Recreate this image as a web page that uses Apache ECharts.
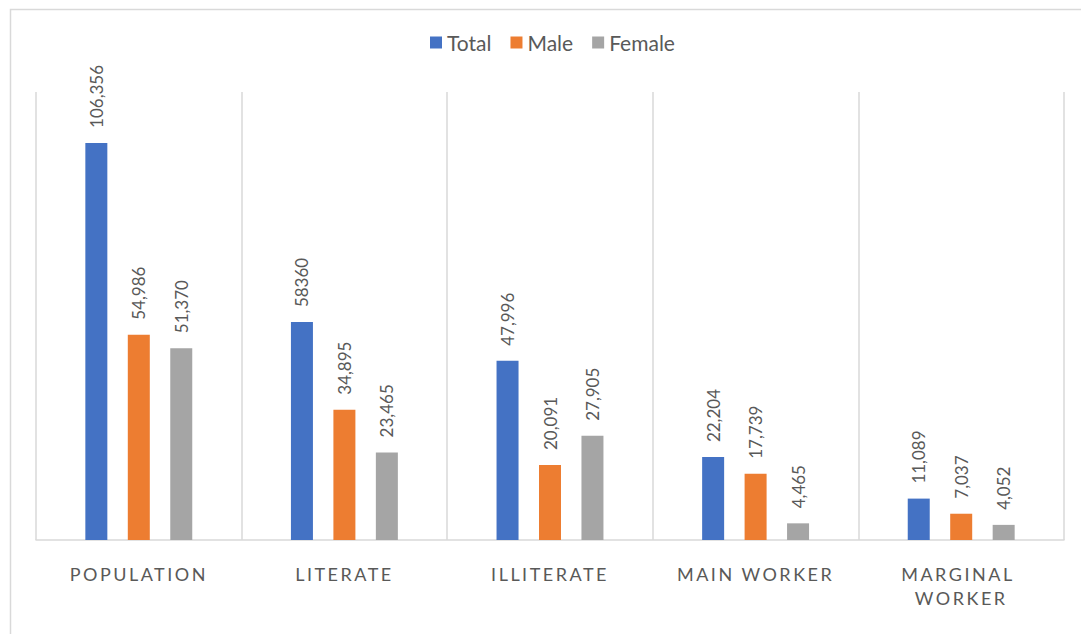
<!DOCTYPE html>
<html>
<head>
<meta charset="utf-8">
<script src="https://cdn.jsdelivr.net/npm/echarts@6/dist/echarts.min.js"></script>
<style>
html,body{margin:0;padding:0;background:#fff;}
#chart{width:1081px;height:634px;}
</style>
</head>
<body>
<div id="chart"></div>
<script>
const categories = ['POPULATION', 'LITERATE', 'ILLITERATE', 'MAIN WORKER', 'MARGINAL WORKER'];
const totalValues = [106356, 58360, 47996, 22204, 11089];
const maleValues = [54986, 34895, 20091, 17739, 7037];
const femaleValues = [51370, 23465, 27905, 4465, 4052];
const seriesNames = ['Total', 'Male', 'Female'];
const seriesColors = ['#4472C4', '#ED7D31', '#A5A5A5'];
// labels exactly as printed on the chart (one value shown without separator)
const plainLabels = [[1], [], []];

const FONT = 'Lato, "Open Sans", sans-serif';
const AXIS_LABEL_COLOR = '#595958';

function fmt(seriesIdx) {
  return function (p) {
    if (plainLabels[seriesIdx].indexOf(p.dataIndex) >= 0) return String(p.value);
    return Number(p.value).toLocaleString('en-US');
  };
}

const allValues = [totalValues, maleValues, femaleValues];
const chart = echarts.init(document.getElementById('chart'), null, {renderer: 'svg'});
chart.setOption({
  animation: false,
  backgroundColor: '#fff',
  graphic: [{
    type: 'rect', left: 8, top: 7, shape: {width: 1100, height: 700},
    style: {fill: 'none', stroke: '#d9d9d9', lineWidth: 1.5}, silent: true
  }],
  legend: {
    top: 27, left: 425,
    icon: 'rect', itemWidth: 12, itemHeight: 12, itemGap: 19,
    textStyle: {fontFamily: FONT, fontSize: 21, color: '#595959'},
    data: seriesNames
  },
  grid: {left: 36, right: 17, top: 92, bottom: 94},
  xAxis: {
    type: 'category', data: categories,
    axisLine: {lineStyle: {color: '#d9d9d9', width: 1.5}},
    axisTick: {show: false},
    splitLine: {show: true, interval: 0, lineStyle: {color: '#d9d9d9', width: 1.5}},
    axisLabel: {
      interval: 0, margin: 22, fontFamily: FONT, fontSize: 18, color: AXIS_LABEL_COLOR,
      width: 140, overflow: 'break', lineHeight: 24
    }
  },
  yAxis: {type: 'value', min: 0, max: 120000, show: false, splitLine: {show: false}},
  series: allValues.map(function (vals, i) {
    return {
      name: seriesNames[i], type: 'bar', data: vals,
      barWidth: 22, barGap: '93%',
      itemStyle: {color: seriesColors[i]},
      label: {
        show: true, position: 'top', rotate: 90, align: 'left', verticalAlign: 'middle',
        distance: 15, fontFamily: FONT, fontSize: 17, color: '#595959',
        formatter: fmt(i)
      }
    };
  })
});

function spaceAxisLabels() {
  const texts = document.querySelectorAll('#chart svg text');
  texts.forEach(function (t) {
    const f = (t.getAttribute('fill') || '').toLowerCase();
    if (f === AXIS_LABEL_COLOR.toLowerCase() || f === 'rgb(89,89,88)') {
      t.setAttribute('letter-spacing', '2.5px');
      t.style.letterSpacing = '2.5px';
    }
  });
}
chart.on('finished', spaceAxisLabels);
spaceAxisLabels();
</script>
</body>
</html>
